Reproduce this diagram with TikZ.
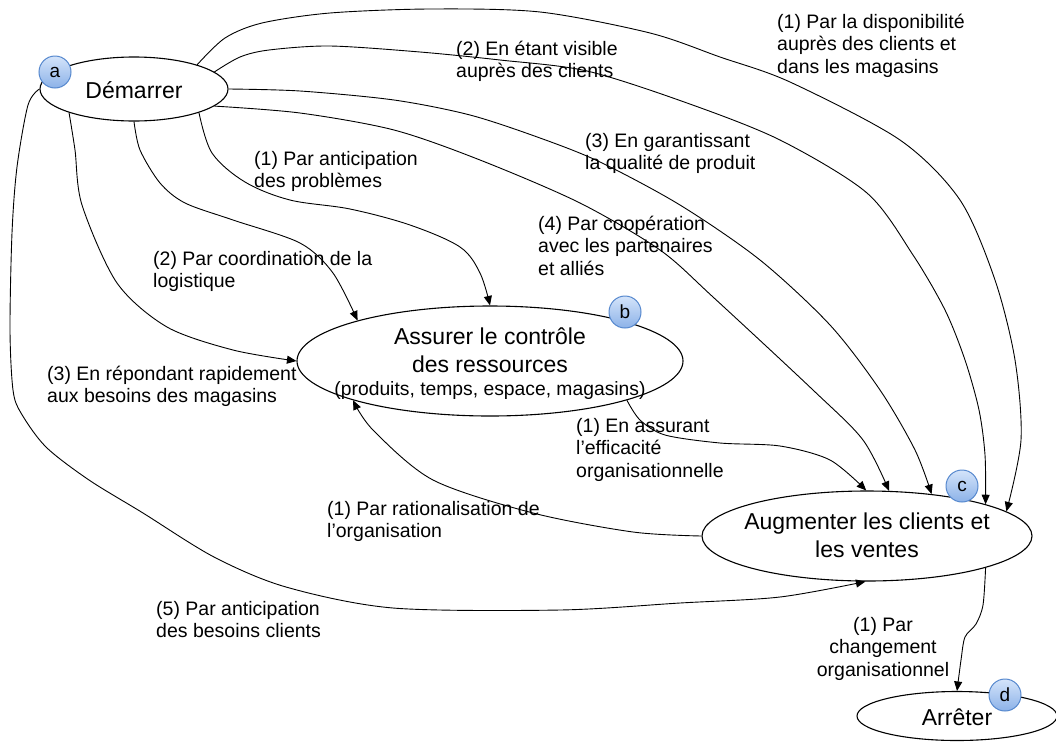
\documentclass[tikz,border=0pt]{standalone}
\usepackage{fontspec}
\setmainfont{Liberation Sans}
\usetikzlibrary{shapes.geometric,arrows.meta}
\definecolor{badgetop}{RGB}{212,228,250}
\definecolor{badgebot}{RGB}{140,178,232}
\definecolor{badgeline}{RGB}{86,136,206}
\newcommand\lblfont{\fontsize{19.5}{22.5}\selectfont}
\newcommand\nodefont{\fontsize{23}{28}\selectfont}
\newcommand\subfont{\fontsize{19.3}{23}\selectfont}
\newcommand\badgefont{\fontsize{19}{20}\selectfont}
\newcommand\ctext[2]{\makebox[0pt][c]{\raisebox{#1}[0pt][0pt]{\begin{tabular}[t]{@{}c@{}}#2\end{tabular}}}}
\newcommand\ltext[1]{\begin{tabular}[t]{@{}l@{}}#1\end{tabular}}
\newcommand\mtext[1]{\begin{tabular}[t]{@{}c@{}}#1\end{tabular}}
\tikzset{
  ell/.style={ellipse, draw, line width=1.1pt, fill=white, inner sep=0pt, font=\nodefont},
  badge/.style={circle, draw=badgeline, top color=badgetop, bottom color=badgebot,
    minimum size=32pt, inner sep=0pt, line width=1pt, font=\badgefont},
  lbl/.style={anchor=base west, inner sep=0pt, font=\lblfont},
  clbl/.style={anchor=base, inner sep=0pt, font=\lblfont},
  conn/.style={line width=0.9pt, -{Triangle[length=9.5pt,width=8pt]}},
}
\begin{document}
\begin{tikzpicture}[x=1pt,y=-1pt]
\useasboundingbox (0,0) rectangle (1056,742);

% main nodes
\node[ell, minimum width=188pt, minimum height=64pt] (a) at (134,89) {\ctext{-9pt}{Démarrer}};
\node[ell, minimum width=386pt, minimum height=110pt] (b) at (490,361)
  {\ctext{17pt}{Assurer le contrôle\\ des ressources\\[-5pt] {\subfont (produits, temps, espace, magasins)}}};
\node[ell, minimum width=330pt, minimum height=90pt] (c) at (867,536)
  {\ctext{7pt}{Augmenter les clients et\\ les ventes}};
\node[ell, minimum width=200pt, minimum height=49pt] (d) at (957,716) {\ctext{-9.5pt}{Arrêter}};

% connectors
\draw[conn] plot[smooth, tension=0.5] coordinates {(a.21) (225,38) (262,23) (330,13) (430,9) (540,12) (650,33) (720,57) (790,82) (900,140) (960,200) (995,280) (1015,360) (1021,440) (c.10)};
\draw[conn] plot[smooth, tension=0.5] coordinates {(a.12) (240,57) (269,50) (330,46) (420,52) (500,60) (587,71) (687,103) (780,140) (867,193) (913,255) (945,310) (965,360) (979,410) (985,455) (c.15)};
\draw[conn] plot[smooth, tension=0.5] coordinates {(a.0) (300,91) (394,100) (470,115) (540,138) (600,162) (680,205) (760,260) (830,325) (880,390) (915,450) (c.33)};
\draw[conn] plot[smooth, tension=0.5] coordinates {(a.-12) (300,113) (394,130) (480,160) (580,203) (660,250) (713,297) (813,390) (863,440) (c.64)};
\draw[conn] plot[smooth, tension=0.55] coordinates {(a.-20) (212,153) (245,182) (290,200) (350,209) (410,225) (460,247) (480,273) (b.90)};
\draw[conn] plot[smooth, tension=0.5] coordinates {(a.-90) (140,150) (160,183) (185,203) (233,220) (300,243) (333,273) (b.163)};
\draw[conn] plot[smooth, tension=0.5] coordinates {(a.-160) (75,150) (82,205) (117,283) (167,327) (233,350) (b.180)};
\draw[conn] plot[smooth, tension=0.5] coordinates {(a.180) (28,105) (17,167) (12,233) (10,330) (13,390) (21,413) (46,447) (89,480) (143,513) (214,557) (286,587) (393,608) (560,610) (680,603) (780,597) (c.-92)};
\draw[conn] plot[smooth, tension=0.5] coordinates {(b.-16) (640,420) (665,435) (720,443) (780,446) (830,460) (c.91)};
\draw[conn] plot[smooth, tension=0.5] coordinates {(c.180) (633,532) (533,513) (433,480) (373,430) (b.196)};
\draw[conn] plot[smooth, tension=0.5] coordinates {(c.-15) (983,605) (976,624) (965,637) (961,660) (d.90)};

% labels
\node[lbl] (l1) at (777,28) {\ltext{(1) Par la disponibilité\\ auprès des clients et\\ dans les magasins}};
\node[lbl] (l2) at (456,55) {\ltext{(2) En étant visible\\ auprès des clients}};
\node[lbl] (l3) at (585,147) {\ltext{(3) En garantissant\\ la qualité de produit}};
\node[lbl] (l4) at (538,230) {\ltext{(4) Par coopération\\ avec les partenaires\\ et alliés}};
\node[lbl] (l5) at (254,165) {\ltext{(1) Par anticipation\\ des problèmes}};
\node[lbl] (l6) at (153,265) {\ltext{(2) Par coordination de la\\ logistique}};
\node[lbl] (l7) at (47,380) {\ltext{(3) En répondant rapidement\\ aux besoins des magasins}};
\node[lbl] (l8) at (156,615) {\ltext{(5) Par anticipation\\ des besoins clients}};
\node[lbl] (l9) at (576,432) {\ltext{(1) En assurant\\ l’efficacité\\ organisationnelle}};
\node[lbl] (l10) at (327,515) {\ltext{(1) Par rationalisation de\\ l’organisation}};
\node[clbl] (l11) at (883,631) {\mtext{(1) Par\\ changement\\ organisationnel}};

% badges
\node[badge] (ba) at (55,72) {a};
\node[badge] (bb) at (625,312) {b};
\node[badge] (bc) at (962,486) {c};
\node[badge] (bd) at (1005,695) {d};
\end{tikzpicture}
\end{document}
